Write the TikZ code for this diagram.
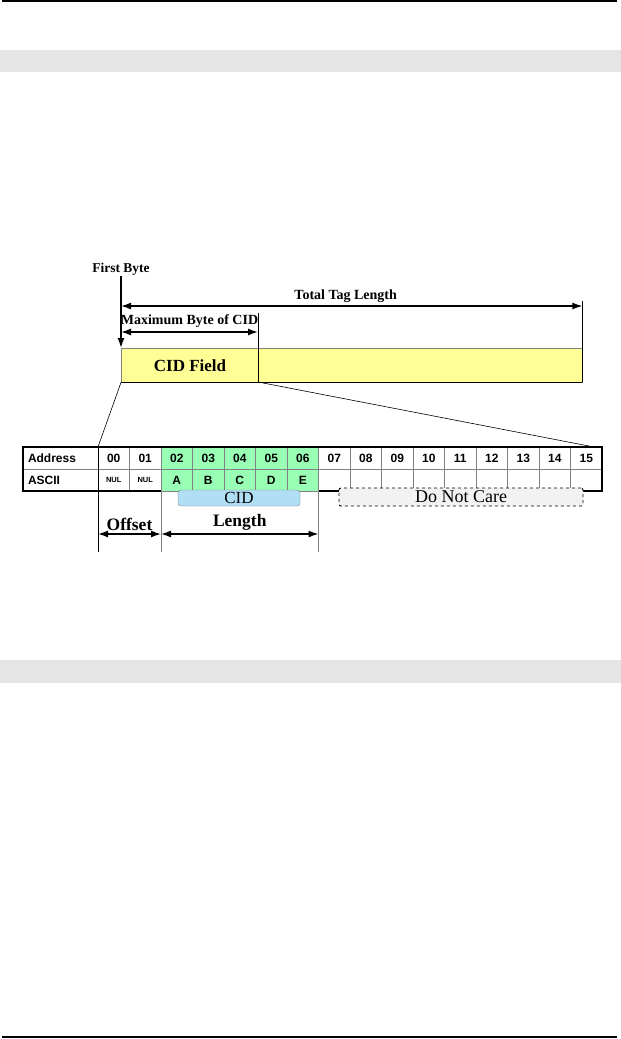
\documentclass[tikz,border=0pt]{standalone}
\usepackage{fontspec}
\setmainfont{Liberation Serif}
\setsansfont{Liberation Sans}
\usetikzlibrary{arrows.meta, positioning}
\definecolor{fieldyellow}{RGB}{255,255,150}
\definecolor{cidgreen}{RGB}{153,255,180}
\definecolor{cidblue}{RGB}{175,222,245}
\definecolor{bandgray}{RGB}{229,229,229}
\definecolor{gridgray}{RGB}{128,128,128}

\begin{document}
\begin{tikzpicture}[
    x=1pt, y=-1pt,
    node distance=0pt,
    cell/.style={rectangle, draw=gridgray, line width=0.6pt, minimum width=31.5pt, minimum height=22pt, inner sep=0pt, outer sep=0pt, text height=8.6pt, text depth=0pt, font=\fontsize{12}{12}\sffamily\bfseries},
    cidcell/.style={cell, fill=cidgreen},
    nulcell/.style={cell, text height=5.5pt, font=\fontsize{7.5}{8}\sffamily\bfseries},
    headcell/.style={cell, minimum width=75pt, text width=65pt, align=left},
    dim/.style={{Latex[length=10pt,width=7pt]}-{Latex[length=10pt,width=7pt]}, line width=1.4pt},
    ext/.style={line width=0.6pt},
    lbl/.style={inner sep=1pt, font=\fontsize{14}{14}\selectfont\bfseries},
    big/.style={inner sep=1pt, font=\fontsize{17.5}{18}\selectfont\bfseries}
]
\useasboundingbox (0,0) rectangle (621,1039);
% page rules and section bands
\draw[line width=1.3pt] (2,1) -- (617,1);
\draw[line width=1.3pt] (2,1037) -- (617,1037);
\fill[bandgray] (0,50) rectangle (621,72);
\fill[bandgray] (0,660) rectangle (621,683);

% tag memory
\node[draw=gridgray, fill=fieldyellow, minimum width=461pt, minimum height=34pt, inner sep=0pt, anchor=north west] (field) at (121,348) {};
\draw[ext] (field.south west) -- (field.south east);
\node[big, font=\fontsize{17}{17}\selectfont\bfseries] (fieldtxt) at (190,366) {CID Field};
\node[lbl, font=\fontsize{13.5}{14}\selectfont\bfseries] (first) at (121,269) {First Byte};
\coordinate (maxR) at (258,382);
\draw[ext] (maxR) -- ([yshift=69pt]maxR);
\draw[ext] (field.south east) -- ([yshift=81pt]field.south east);
\draw[-{Latex[length=10pt,width=7pt]}, line width=1.4pt] (first.south) -- (field.north west);
\draw[dim] ([yshift=42pt]field.north west) -- ([yshift=42pt]field.north east)
    node[lbl, midway, above=2pt, xshift=-6pt] (total) {Total Tag Length};
\draw[dim] ([yshift=16pt]field.north west) -- ([yshift=50pt]maxR)
    node[lbl, midway, above=3pt] (maxtxt) {Maximum Byte of CID};

% address table
\node[headcell, anchor=north west] (addr) at (23,447) {Address};
\node[headcell, below=of addr] (ascii) {ASCII};
\node[cell, right=of addr] (a00) {00};
\node[cell, right=of a00] (a01) {01};
\node[cidcell, right=of a01] (a02) {02};
\node[cidcell, right=of a02] (a03) {03};
\node[cidcell, right=of a03] (a04) {04};
\node[cidcell, right=of a04] (a05) {05};
\node[cidcell, right=of a05] (a06) {06};
\node[cell, right=of a06] (a07) {07};
\node[cell, right=of a07] (a08) {08};
\node[cell, right=of a08] (a09) {09};
\node[cell, right=of a09] (a10) {10};
\node[cell, right=of a10] (a11) {11};
\node[cell, right=of a11] (a12) {12};
\node[cell, right=of a12] (a13) {13};
\node[cell, right=of a13] (a14) {14};
\node[cell, right=of a14] (a15) {15};
\node[nulcell, below=of a00] (n00) {NUL};
\node[nulcell, below=of a01] (n01) {NUL};
\node[cidcell, below=of a02] (n02) {A};
\node[cidcell, below=of a03] (n03) {B};
\node[cidcell, below=of a04] (n04) {C};
\node[cidcell, below=of a05] (n05) {D};
\node[cidcell, below=of a06] (n06) {E};
\node[cell, below=of a07] (n07) {};
\node[cell, below=of a08] (n08) {};
\node[cell, below=of a09] (n09) {};
\node[cell, below=of a10] (n10) {};
\node[cell, below=of a11] (n11) {};
\node[cell, below=of a12] (n12) {};
\node[cell, below=of a13] (n13) {};
\node[cell, below=of a14] (n14) {};
\node[cell, below=of a15] (n15) {};
\draw[line width=1.8pt] (n02.south west) -| (addr.north west) -| (n15.south east) -- (n07.south west);
\draw[ext] (addr.north east) -- ([yshift=-61pt]ascii.south east);
\draw[ext, gridgray] (n02.south west) -- ([yshift=-61pt]n02.south west);
\draw[ext, gridgray] (n07.south west) -- ([yshift=-61pt]n07.south west);

% zoom lines
\draw[ext] (field.south west) -- (a00.north west);
\draw[ext] (maxR) -- ([xshift=-8pt]a15.north east);

\node[draw=gridgray, fill=cidblue, rounded corners=3pt, minimum width=122pt, minimum height=16pt, inner sep=0pt, font=\fontsize{17}{17}\selectfont] (cid) at (239,498) {CID};
\node[draw, dashed, line width=0.9pt, fill=black!5, rounded corners=2pt, minimum width=244pt, minimum height=18pt, inner sep=0pt, font=\fontsize{18}{18}\selectfont] (dontcare) at (461,497) {Do Not Care};

\draw[dim] ([yshift=-43pt]ascii.south east) -- ([yshift=-43pt]n02.south west)
    node[big, midway, above=2pt] (offset) {Offset};
\draw[dim] ([yshift=-43pt]n02.south west) -- ([yshift=-43pt]n07.south west)
    node[big, midway, above=2pt] (length) {Length};
\end{tikzpicture}
\end{document}
